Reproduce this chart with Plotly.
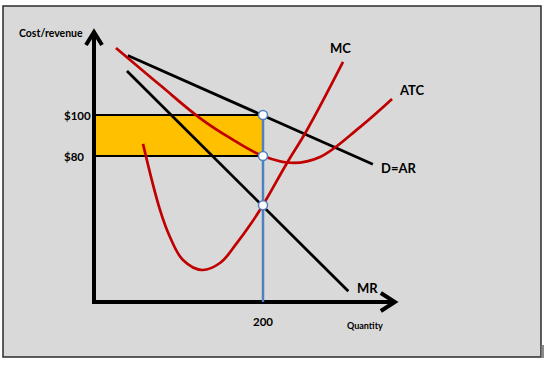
import plotly.graph_objects as go

# ---------------- data (quantity, price) ----------------
q_star = 200          # profit-maximising output
price = 100           # $100 (AR at q*)
avg_cost = 80         # $80 (ATC at q*)
mr_mc_level = 56      # MR = MC level at q*

demand_q = [40, 330]
demand_p = [129, 76]

mr_q = [39, 301]
mr_p = [121.5, 14]

atc_q = [26, 78.1, 125.4, 160.9, 200, 235.5, 267.5, 314.8, 352.7]
atc_p = [132.7, 114.6, 98.5, 88.8, 80, 76.6, 79.5, 94.1, 107.8]

mc_q = [58.0, 78.1, 89.9, 105.3, 127.8, 149.1, 169.2, 184.6, 200, 228.4, 252.1, 294.7]
mc_p = [85.9, 53.7, 40.5, 29.3, 24.4, 27.8, 37.6, 46.3, 56.1, 76.6, 92.7, 125.9]

y_ticks = [100, 80]
y_tick_text = ["$100", "$80"]
x_ticks = [200]
x_tick_text = ["200"]

# axis extents (data units)
axis_origin_p = 8.8
axis_top_p = 140.5
axis_right_q = 356

# ---------------- layout geometry ----------------
W, H = 548, 367
PX_Q = 200 / 169.0      # quantity units per pixel
PX_P = 20 / 41.0        # price units per pixel
ORIGIN_PX = 94
P100_PY = 115


def q_of(px):
    return (px - ORIGIN_PX) * PX_Q


def p_of(py):
    return 100 - (py - P100_PY) * PX_P


RED = "#C00000"
BLUE = "#4F81BD"
FONT = "Lato, 'Open Sans', sans-serif"

fig = go.Figure()

# axes
fig.add_trace(go.Scatter(
    x=[0, 0, axis_right_q], y=[axis_top_p, axis_origin_p, axis_origin_p],
    mode="lines", line=dict(color="black", width=4), hoverinfo="skip"))
# arrow heads (chevrons)
fig.add_trace(go.Scatter(
    x=[-8 * PX_Q, 0, 8 * PX_Q], y=[axis_top_p - 13 * PX_P, axis_top_p, axis_top_p - 13 * PX_P],
    mode="lines", line=dict(color="black", width=4), hoverinfo="skip"))
fig.add_trace(go.Scatter(
    x=[axis_right_q - 14 * PX_Q, axis_right_q, axis_right_q - 14 * PX_Q],
    y=[axis_origin_p + 9 * PX_P, axis_origin_p, axis_origin_p - 9 * PX_P],
    mode="lines", line=dict(color="black", width=4), hoverinfo="skip"))

# demand and MR
fig.add_trace(go.Scatter(x=demand_q, y=demand_p, mode="lines",
                         line=dict(color="black", width=2.8), hoverinfo="skip"))
fig.add_trace(go.Scatter(x=mr_q, y=mr_p, mode="lines",
                         line=dict(color="black", width=2.8), hoverinfo="skip"))

# cost curves
fig.add_trace(go.Scatter(x=atc_q, y=atc_p, mode="lines",
                         line=dict(color=RED, width=2.7, shape="spline", smoothing=1.1),
                         hoverinfo="skip"))
fig.add_trace(go.Scatter(x=mc_q, y=mc_p, mode="lines",
                         line=dict(color=RED, width=2.7, shape="spline", smoothing=1.1),
                         hoverinfo="skip"))

# vertical line at q*
fig.add_trace(go.Scatter(x=[q_star, q_star], y=[price, axis_origin_p], mode="lines",
                         line=dict(color=BLUE, width=2.5), hoverinfo="skip"))

# intersection points
fig.add_trace(go.Scatter(x=[q_star, q_star, q_star], y=[price, avg_cost, mr_mc_level],
                         mode="markers",
                         marker=dict(size=9, color="white", line=dict(color=BLUE, width=1.5)),
                         hoverinfo="skip"))

shapes = [
    # grey panel
    dict(type="rect", xref="paper", yref="paper",
         x0=3 / W, x1=541 / W, y0=1 - 357 / H, y1=1 - 6 / H,
         fillcolor="#D9D9D9", line=dict(color="#2b2b2b", width=1.5), layer="below"),
    # small shadow mark
    dict(type="rect", xref="paper", yref="paper",
         x0=541.5 / W, x1=544 / W, y0=1 - 358 / H, y1=1 - 345 / H,
         fillcolor="#8a8a8a", line=dict(width=0), layer="below"),
    # profit rectangle
    dict(type="rect", xref="x", yref="y", x0=0, x1=q_star, y0=avg_cost, y1=price,
         fillcolor="#FFC000", line=dict(color="black", width=2), layer="below"),
]

annotations = []


def txt(x, y, s, size, xanchor="center"):
    annotations.append(dict(x=x, y=y, xref="x", yref="y", text="<b>" + s + "</b>",
                            showarrow=False, xanchor=xanchor, yanchor="middle",
                            font=dict(family=FONT, size=size, color="black")))


for v, t in zip(y_ticks, y_tick_text):
    txt(q_of(62), v, t, 11.5, xanchor="left")
for v, t in zip(x_ticks, x_tick_text):
    txt(v, p_of(321), t, 11.5)

txt(q_of(51), p_of(33), "Cost/revenue", 10.5)
txt(q_of(365), p_of(325), "Quantity", 9)
txt(q_of(340), p_of(48), "MC", 13)
txt(q_of(412), p_of(90), "ATC", 13)
txt(q_of(398), p_of(168), "D=AR", 13)
txt(q_of(367), p_of(288), "MR", 13)

fig.update_layout(
    width=W, height=H,
    margin=dict(l=0, r=0, t=0, b=0),
    paper_bgcolor="white", plot_bgcolor="rgba(0,0,0,0)",
    showlegend=False,
    xaxis=dict(range=[q_of(0), q_of(W)], visible=False, fixedrange=True),
    yaxis=dict(range=[p_of(H), p_of(0)], visible=False, fixedrange=True),
    shapes=shapes, annotations=annotations,
    hovermode=False,
)

fig.write_html("out.html", config={"displayModeBar": False},
               post_script="document.body.style.margin='0';document.body.style.overflow='hidden';")
